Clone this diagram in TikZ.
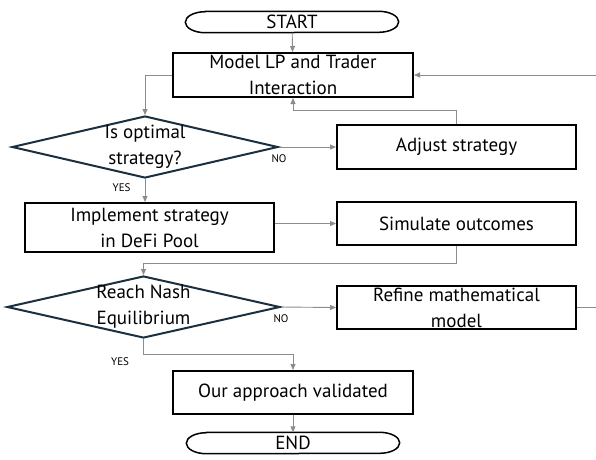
\documentclass[tikz,border=0pt]{standalone}
\usepackage{fontspec}
\setmainfont{PT Sans}
\usetikzlibrary{arrows.meta,shapes.geometric}

\definecolor{flowgray}{HTML}{8C8C8C}
\definecolor{decnavy}{HTML}{1B2F3F}

\begin{document}
\begin{tikzpicture}[x=1pt, y=1pt,
        every node/.style={font=\fontsize{19}{26}\selectfont},
        box/.style={draw, line width=2pt, minimum width=240, minimum height=44, inner sep=0, align=center},
        decision/.style={diamond, draw=decnavy, line width=2pt, inner sep=0, minimum height=62},
        terminal/.style={minimum width=173, minimum height=21, inner sep=0},
        flow/.style={draw=flowgray, line width=0.9pt, -{Triangle[length=6pt, width=5pt]}},
        answer/.style={font=\fontsize{11}{12}\selectfont, inner sep=0}
      ]
      \useasboundingbox (0,0) rectangle (596,-459);
      \clip (0,0) rectangle (596,-459);

      \node[terminal] (start) at (292,-22) {START};
      \node[box] (model) at (293,-75) {Model LP and Trader\\Interaction};
      \node[decision, minimum width=266] (optimal) at (145,-147)
        [label={[align=center]center:Is optimal\\strategy?}] {};
      \node[box, minimum width=239] (adjust) at (456.5,-147) {Adjust strategy};
      \node[box, minimum width=249, minimum height=49] (implement) at (149.5,-227.5) {Implement strategy\\in DeFi Pool};
      \node[box, minimum width=239, minimum height=43] (simulate) at (456.5,-223.5) {Simulate outcomes};
      \node[decision, minimum width=273] (nash) at (143.5,-307)
        [label={[align=center]center:Reach Nash\\Equilibrium}] {};
      \node[box, minimum width=239, minimum height=43] (refine) at (456.5,-307.5) {Refine mathematical\\model};
      \node[box, minimum height=43] (validated) at (293,-392.5) {Our approach validated};
      \node[terminal] (end) at (293,-443) {END};

      % terminal outlines
      \foreach \t in {start,end}
        \draw[line width=1.5pt] (\t.north west) -- (\t.north east)
          arc[start angle=90, end angle=-90, x radius=20, y radius=10.5]
          -- (\t.south west)
          arc[start angle=270, end angle=90, x radius=20, y radius=10.5] -- cycle;

      \draw[flow] (start) -- (model);
      \draw[flow] (model.west) -| (optimal.north);
      \draw[flow] (optimal.east) -- (adjust.west)
        node[answer, at start, anchor=north, yshift=-7pt] (no1) {NO};
      \draw[flow] (adjust.north) -- ++(0,14) -| (model.south);
      \draw[flow] (optimal.south) -- (optimal.south |- implement.north)
        node[answer, at start, anchor=north east, xshift=-14pt, yshift=-4pt] (yes1) {YES};
      \draw[flow] (simulate.west -| implement.east) -- (simulate.west);
      \draw[flow] (simulate.south) -- ++(0,-17) -| (nash.north);
      \draw[flow] (nash.east) -- (refine.west)
        node[answer, at start, anchor=north, yshift=-7pt] (no2) {NO};
      \draw[flow] (refine.east) -- ++(30,0) |- (model.east);
      \draw[flow] (nash.south) -- ++(0,-15) -| (validated.north)
        node[answer, at start, anchor=north east, xshift=-14pt, yshift=-3pt] (yes2) {YES};
      \draw[flow] (validated) -- (end);
    \end{tikzpicture}
\end{document}
